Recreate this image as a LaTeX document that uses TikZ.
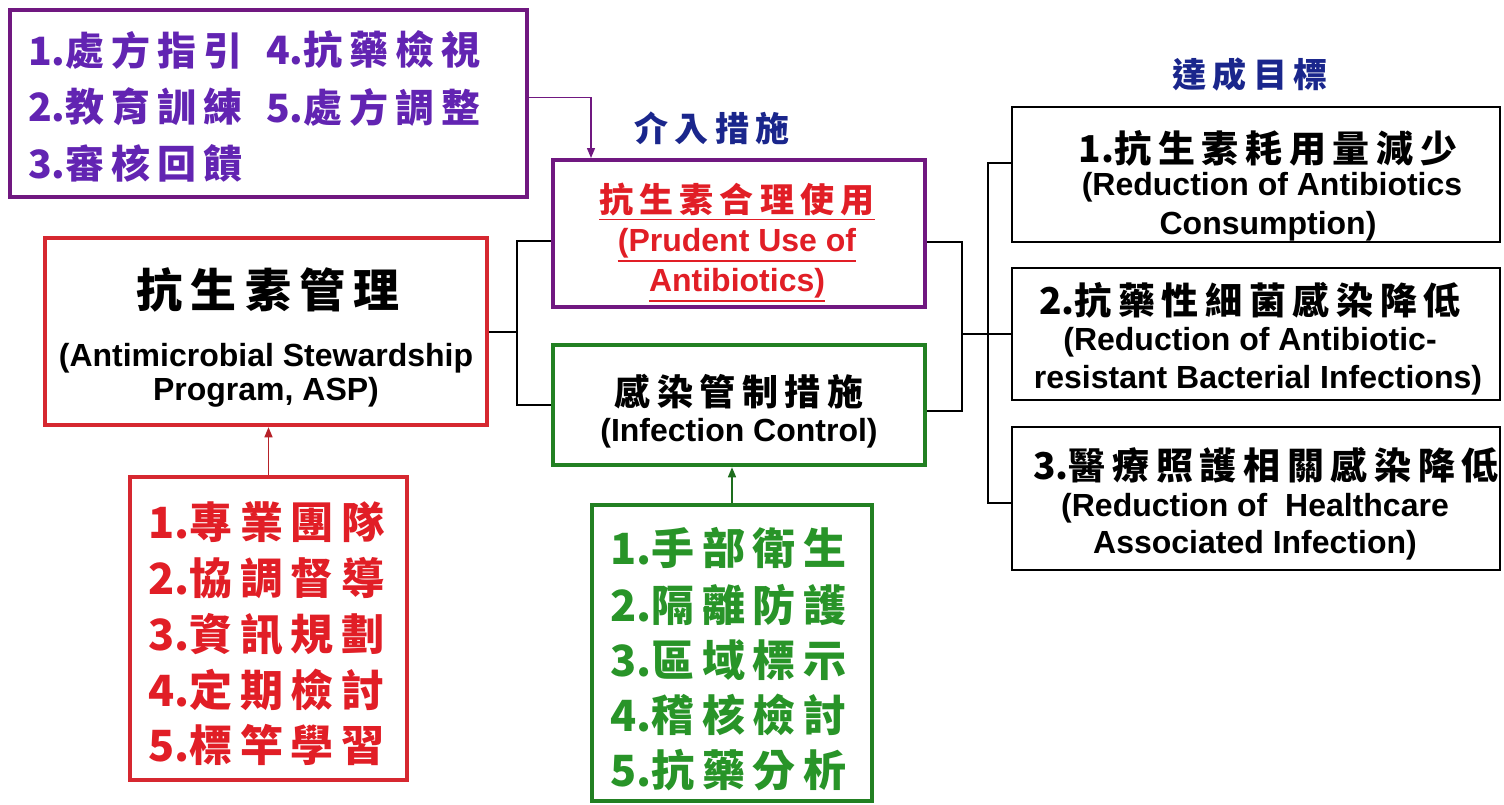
\documentclass[tikz,border=0pt]{standalone}
\usepackage{fontspec}
\setmainfont{Liberation Sans}
\newfontfamily\cjk[LetterSpace=18]{Noto Sans CJK TC}
\newfontfamily\cjkn{Noto Sans CJK TC}
\newcommand\dg[1]{{\cjkn #1}}
\usetikzlibrary{arrows.meta}
\definecolor{pboxc}{RGB}{112,24,128}
\definecolor{ptext}{RGB}{98,36,178}
\definecolor{rboxc}{RGB}{214,40,48}
\definecolor{rtext}{RGB}{225,30,38}
\definecolor{gboxc}{RGB}{34,128,34}
\definecolor{gtext}{RGB}{40,148,40}
\definecolor{navy}{RGB}{26,38,140}
\tikzset{
  box/.style={draw, line width=4.5pt, inner sep=0pt},
  gbox/.style={draw=black, line width=2.2pt, inner sep=0pt},
  zh/.style={inner sep=0pt, font=\cjk\bfseries\fontsize{#1}{#1}\selectfont},
  en/.style={inner sep=0pt, font=\bfseries\fontsize{32}{32}\selectfont},
  conn/.style={draw=black, line width=2pt},
  arr/.style={line width=1.4pt, -{Triangle[length=10pt,width=8pt]}},
}
\begin{document}
\begin{tikzpicture}[x=1pt,y=-1pt]
\useasboundingbox[fill=white] (0,0) rectangle (1504,804);
% boxes
\node[box, draw=pboxc, minimum width=517pt, minimum height=187pt] (pres) at (268.5,103.5) {};
\node[box, draw=pboxc, minimum width=372pt, minimum height=147pt] (pru) at (739,233.5) {};
\node[box, draw=gboxc, minimum width=372pt, minimum height=120pt] (inf) at (739,405) {};
\node[box, draw=rboxc, minimum width=442pt, minimum height=187pt] (asp) at (266,331.5) {};
\node[box, draw=rboxc, minimum width=277pt, minimum height=303pt] (rlist) at (268.5,628.5) {};
\node[box, draw=gboxc, minimum width=280pt, minimum height=296pt] (glist) at (732,653) {};
\node[gbox, minimum width=488pt, minimum height=135pt] (g1) at (1256,174.5) {};
\node[gbox, minimum width=488pt, minimum height=132pt] (g2) at (1256,334) {};
\node[gbox, minimum width=488pt, minimum height=143pt] (g3) at (1256,498.5) {};
% purple list
\node[zh=39, text=ptext, anchor=west] (t1a) at (28,50) {\dg{1.}處方指引};
\node[zh=39, text=ptext, anchor=west] (t1b) at (266,50) {\dg{4.}抗藥檢視};
\node[zh=39, text=ptext, anchor=west] (t2a) at (28,107) {\dg{2.}教育訓練};
\node[zh=39, text=ptext, anchor=west] (t2b) at (266,107) {\dg{5.}處方調整};
\node[zh=39, text=ptext, anchor=west] (t3a) at (28,163) {\dg{3.}審核回饋};
% titles
\node[zh=34, text=navy] (tt1) at (712,128) {介入措施};
\node[zh=34, text=navy] (tt2) at (1250,75) {達成目標};
% prudent
\node[zh=34, text=rtext] (pu1) at (737,200) {抗生素合理使用};
\node[en, text=rtext] (pu2) at (737,243) {(Prudent Use of};
\node[en, text=rtext] (pu3) at (737,283) {Antibiotics)};
\foreach \n in {pu1,pu2,pu3}{\draw[rtext, line width=1.3pt] ([yshift=-3pt]\n.south west) -- ([yshift=-3pt]\n.south east);}
% infection
\node[zh=36] (in1) at (739,392) {感染管制措施};
\node[en] (in2) at (739,433) {(Infection Control)};
% asp
\node[zh=46] (as1) at (268,290) {抗生素管理};
\node[en] (as2) at (266,358) {(Antimicrobial Stewardship};
\node[en] (as3) at (266,392) {Program, ASP)};
% goals
\node[zh=37] (g1a) at (1268,148) {\dg{1.}抗生素耗用量減少};
\node[en] (g1b) at (1272,187) {(Reduction of Antibiotics};
\node[en] (g1c) at (1268,226) {Consumption)};
\node[zh=37] (g2a) at (1250,300) {\dg{2.}抗藥性細菌感染降低};
\node[en] (g2b) at (1250,342) {(Reduction of Antibiotic-};
\node[en] (g2c) at (1258,380) {resistant Bacterial Infections)};
\node[zh=37] (g3a) at (1266,465) {\dg{3.}醫療照護相關感染降低};
\node[en] (g3b) at (1255,508) {(Reduction of \ Healthcare};
\node[en] (g3c) at (1255,545) {Associated Infection)};
% red list
\node[zh=43, text=rtext, anchor=west] (r1) at (148,522) {\dg{1.}專業團隊};
\node[zh=43, text=rtext, anchor=west] (r2) at (148,578) {\dg{2.}協調督導};
\node[zh=43, text=rtext, anchor=west] (r3) at (148,634) {\dg{3.}資訊規劃};
\node[zh=43, text=rtext, anchor=west] (r4) at (148,690) {\dg{4.}定期檢討};
\node[zh=43, text=rtext, anchor=west] (r5) at (148,745) {\dg{5.}標竿學習};
% green list
\node[zh=43, text=gtext, anchor=west] (l1) at (610,548) {\dg{1.}手部衛生};
\node[zh=43, text=gtext, anchor=west] (l2) at (610,605) {\dg{2.}隔離防護};
\node[zh=43, text=gtext, anchor=west] (l3) at (610,660) {\dg{3.}區域標示};
\node[zh=43, text=gtext, anchor=west] (l4) at (610,715) {\dg{4.}稽核檢討};
\node[zh=43, text=gtext, anchor=west] (l5) at (610,770) {\dg{5.}抗藥分析};
% connectors
\coordinate (lbx) at (517,331.5);
\coordinate (rbx) at (962,334);
\coordinate (gbx) at (988,334);
\coordinate (pa) at (591,158);
\draw[conn] ([yshift=-7pt]pru.west) -| (lbx) |- (inf.west);
\draw[conn] (asp.east) -- (lbx);
\draw[conn] ([yshift=-8pt]pru.east) -| (rbx) |- ([yshift=-6pt]inf.east);
\draw[conn] (rbx) -- (rbx -| g2.west);
\draw[conn] ([yshift=12pt]g1.west) -| (gbx) |- ([yshift=-4pt]g3.west);
\draw[arr, draw=pboxc] ([yshift=6pt]pres.east) -| (pa);
\draw[arr, draw=rboxc!85!black] (rlist.north) -- (rlist.north |- asp.south);
\draw[arr, draw=gboxc!85!black] (glist.north) -- (glist.north |- inf.south);
\end{tikzpicture}
\end{document}
